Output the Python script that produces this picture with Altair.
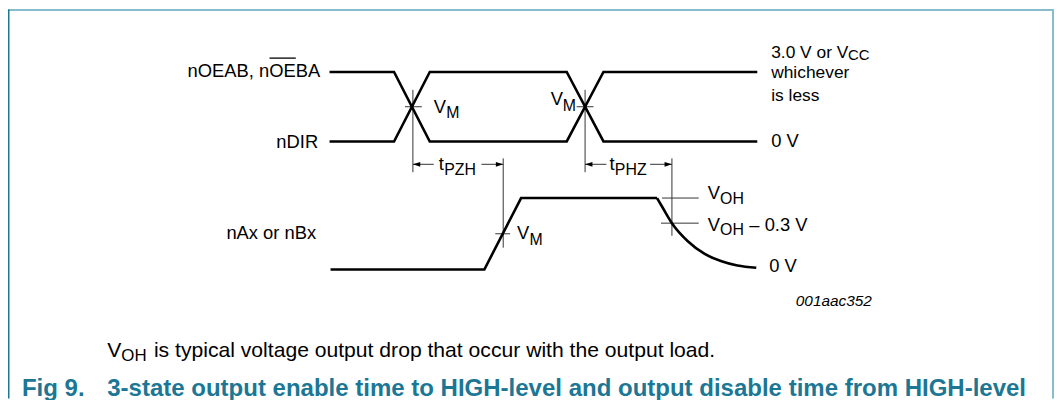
import altair as alt
import pandas as pd

# ---- waveform data (time axis -> x, signal level -> y; diagram units) ----
in_x = [332, 397, 433, 571, 608, 763]
oe_y = [71, 71, 141, 141, 71, 71]
dir_y = [141, 141, 71, 71, 141, 141]
out_x = [333, 488, 525, 662]
out_y = [270, 270, 198, 198]
decay_x = [662, 667, 677, 693, 710, 727, 743, 762]
decay_y = [198, 206.5, 223.3, 241.5, 254.3, 261.7, 266, 268.3]

# ---- measurement lines: x1, x2, y1, y2 ----
seg_x1 = [416, 408, 589.5, 581, 507, 499, 677, 667, 666, 416, 485, 589.5, 655]
seg_x2 = [416, 425, 589.5, 598, 507, 514, 677, 704, 704, 437, 507, 611, 677]
seg_y1 = [89, 106, 89, 106, 158, 234, 158, 198, 223.3, 164, 164, 164, 164]
seg_y2 = [172, 106, 172, 106, 248, 234, 236, 198, 223.3, 164, 164, 164, 164]

arrow_x = [416, 507, 589.5, 677]
arrow_y = [164, 164, 164, 164]
arrow_dir = ["L", "R", "L", "R"]

# ---- labels ----
lab_text = ["V", "M", "V", "M", "t", "PZH", "t", "PHZ", "V", "M",
            "3.0 V or V", "CC", "whichever", "is less", "0 V",
            "V", "OH", "V", "OH", "– 0.3 V", "0 V"]
lab_x = [437, 449.5, 555, 567, 442, 447.5, 614, 619.5, 521, 533.5,
         777, 854.5, 777, 777, 777,
         713, 725.5, 713, 725.5, 755, 775]
lab_y = [112, 117, 104, 110, 170, 175, 170, 175, 239.5, 245,
         57, 58.5, 77.5, 100, 147,
         198.5, 203.5, 231.5, 235, 231.5, 273]
lab_size = [18.5, 16, 18.5, 16, 18.5, 16, 18.5, 16, 18.5, 16,
            17.5, 15, 17.5, 17.5, 18.5,
            18.5, 16, 18.5, 16, 18.5, 18.5]

sig_text = ["nOEAB, nOEBA", "nDIR", "nAx or nBx"]
sig_x = [322.5, 320.5, 318.5]
sig_y = [76.5, 148, 239.5]

note_text = ["V", "OH", "is typical voltage output drop that occur with the output load."]
note_x = [108, 122.2, 155]
note_y = [358, 362, 358]
note_size = [21.3, 17, 21.3]

title_text = ["Fig 9.", "3-state output enable time to HIGH-level and output disable time from HIGH-level"]
title_x = [22, 108]
title_y = [397, 397]

code_text = ["001aac352"]

W, H = 1055, 392
xs = alt.Scale(domain=[8, 8 + W], nice=False, zero=False)
ys = alt.Scale(domain=[8, 8 + H], nice=False, zero=False, reverse=True)
X = lambda f: alt.X(f, type="quantitative", scale=xs, axis=None)
Y = lambda f: alt.Y(f, type="quantitative", scale=ys, axis=None)

wave = pd.concat([
    pd.DataFrame({"x": in_x, "y": oe_y, "s": "oe", "i": range(len(in_x))}),
    pd.DataFrame({"x": in_x, "y": dir_y, "s": "dir", "i": range(len(in_x))}),
    pd.DataFrame({"x": out_x, "y": out_y, "s": "out", "i": range(len(out_x))}),
])
decay = pd.DataFrame({"x": decay_x, "y": decay_y, "i": range(len(decay_x))})
segs = pd.DataFrame({"x": seg_x1, "x2": seg_x2, "y": seg_y1, "y2": seg_y2})
arrows = pd.DataFrame({"x": arrow_x, "y": arrow_y, "d": arrow_dir})
labs = pd.DataFrame({"x": lab_x, "y": lab_y, "t": lab_text, "s": lab_size})
sigs = pd.DataFrame({"x": sig_x, "y": sig_y, "t": sig_text})
notes = pd.DataFrame({"x": note_x, "y": note_y, "t": note_text, "s": note_size})
titles = pd.DataFrame({"x": title_x, "y": title_y, "t": title_text})
code = pd.DataFrame({"x": [878.5], "y": [306.5], "t": code_text})
over = pd.DataFrame({"x": [271.5], "x2": [298], "y": [57], "y2": [57]})
frame = pd.DataFrame({"x": [8, 8.75, 1061], "x2": [1062, 8.75, 1061],
                      "y": [8.5, 8, 8], "y2": [8.5, 400, 400],
                      "c": ["#86bccb", "#1b7792", "#86bccb"], "w": [2, 1.5, 2]})

FONT = "Liberation Sans"
teal = "#1c7795"

lines = alt.Chart(wave).mark_line(color="black", strokeWidth=2.6, strokeJoin="miter").encode(
    x=X("x"), y=Y("y"), detail="s:N", order="i:Q")
curve = alt.Chart(decay).mark_line(color="black", strokeWidth=2.6, interpolate="monotone").encode(
    x=X("x"), y=Y("y"), order="i:Q")
rules = alt.Chart(segs).mark_rule(color="#333333", strokeWidth=1).encode(
    x=X("x"), x2="x2", y=Y("y"), y2="y2")
overline = alt.Chart(over).mark_rule(color="black", strokeWidth=1.3).encode(
    x=X("x"), x2="x2", y=Y("y"), y2="y2")
arrL = alt.Chart(arrows).transform_filter(alt.datum.d == "L").mark_point(
    shape="M0,0L1,-0.32L1,0.32Z", filled=True, color="black", size=220, opacity=1).encode(
    x=X("x"), y=Y("y"))
arrR = alt.Chart(arrows).transform_filter(alt.datum.d == "R").mark_point(
    shape="M0,0L-1,-0.32L-1,0.32Z", filled=True, color="black", size=220, opacity=1).encode(
    x=X("x"), y=Y("y"))
labels = alt.Chart(labs).mark_text(align="left", baseline="alphabetic", font=FONT, color="black").encode(
    x=X("x"), y=Y("y"), text="t:N", size=alt.Size("s:Q", scale=None))
siglab = alt.Chart(sigs).mark_text(align="right", baseline="alphabetic", font=FONT, fontSize=18.5, color="black").encode(
    x=X("x"), y=Y("y"), text="t:N")
codelab = alt.Chart(code).mark_text(align="right", baseline="alphabetic", font=FONT, fontSize=15.5,
                                    fontStyle="italic", color="black").encode(
    x=X("x"), y=Y("y"), text="t:N")
notelab = alt.Chart(notes).mark_text(align="left", baseline="alphabetic", font=FONT, color="black").encode(
    x=X("x"), y=Y("y"), text="t:N", size=alt.Size("s:Q", scale=None))
titlelab = alt.Chart(titles).mark_text(align="left", baseline="alphabetic", font=FONT, fontSize=24.2,
                                       fontWeight="bold", color=teal).encode(
    x=X("x"), y=Y("y"), text="t:N")
border = alt.Chart(frame).mark_rule().encode(
    x=X("x"), x2="x2", y=Y("y"), y2="y2",
    color=alt.Color("c:N", scale=None), strokeWidth=alt.StrokeWidth("w:Q", scale=None))

chart = alt.layer(border, rules, lines, curve, overline, arrL, arrR, labels, siglab, codelab,
                  notelab, titlelab).properties(
    width=W, height=H, padding=0, autosize=alt.AutoSizeParams(type="none"),
    background="white"
).configure_view(stroke=None)

chart.save("out.html", embed_options={"renderer": "svg", "actions": False})
